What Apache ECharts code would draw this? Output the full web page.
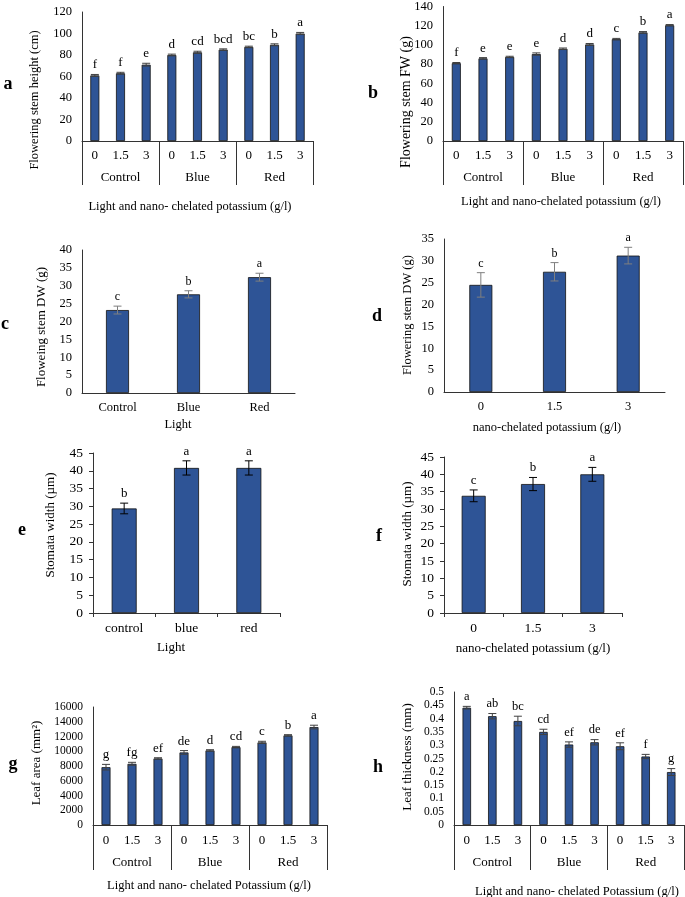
<!DOCTYPE html>
<html><head><meta charset="utf-8">
<script src="https://cdn.jsdelivr.net/npm/echarts@6/dist/echarts.min.js"></script>
<style>html,body{margin:0;padding:0;background:#fff}#c{width:685px;height:897px}</style>
</head><body><div id="c"></div>
<script>
// ---- categories / tick labels ----
const lightGroups = ['Control', 'Blue', 'Red'];
const doseLabels9 = ['0', '1.5', '3', '0', '1.5', '3', '0', '1.5', '3'];
const lightCats = ['Control', 'Blue', 'Red'];
const lightCatsLower = ['control', 'blue', 'red'];
const doseCats = ['0', '1.5', '3'];

// ---- (a) flowering stem height ----
const heightVals = [61, 63, 71, 80, 82.5, 85, 87.5, 89.5, 100];
const heightErr = [0.9, 0.9, 1.3, 0.8, 1, 0.7, 0.7, 0.9, 1];
const heightLetters = ['f', 'f', 'e', 'd', 'cd', 'bcd', 'bc', 'b', 'a'];
// ---- (b) flowering stem FW ----
const fwVals = [81, 86, 87.5, 90.5, 96, 100.5, 106, 113, 120.5];
const fwErr = [0.7, 0.8, 0.7, 1.2, 0.8, 1, 0.8, 0.9, 0.7];
const fwLetters = ['f', 'e', 'e', 'e', 'd', 'd', 'c', 'b', 'a'];
// ---- (c) stem DW by light ----
const dwLightVals = [23.2, 27.6, 32.4];
const dwLightErr = [1.1, 1, 1.1];
const dwLightLetters = ['c', 'b', 'a'];
// ---- (d) stem DW by dose ----
const dwDoseVals = [24.5, 27.5, 31.2];
const dwDoseErr = [2.8, 2.1, 1.9];
const dwDoseLetters = ['c', 'b', 'a'];
// ---- (e) stomata width by light ----
const stomaLightVals = [29.4, 40.8, 40.8];
const stomaLightErr = [1.5, 2, 2];
const stomaLightLetters = ['b', 'a', 'a'];
// ---- (f) stomata width by dose ----
const stomaDoseVals = [33.8, 37.2, 40];
const stomaDoseErr = [1.7, 1.9, 2];
const stomaDoseLetters = ['c', 'b', 'a'];
// ---- (g) leaf area ----
const areaVals = [7840, 8300, 9020, 9840, 10110, 10560, 11200, 12150, 13280];
const areaErr = [380, 200, 100, 250, 100, 100, 150, 100, 250];
const areaLetters = ['g', 'fg', 'ef', 'de', 'd', 'cd', 'c', 'b', 'a'];
// ---- (h) leaf thickness ----
const thickVals = [0.441, 0.409, 0.391, 0.35, 0.3025, 0.311, 0.296, 0.2575, 0.199];
const thickErr = [0.005, 0.01, 0.018, 0.01, 0.01, 0.01, 0.013, 0.008, 0.013];
const thickLetters = ['a', 'ab', 'bc', 'cd', 'ef', 'de', 'ef', 'f', 'g'];

const FONT = 'Liberation Serif';
const BAR = '#2E5496';
const AX = '#333';

const grids = [], xAxis = [], yAxis = [], series = [], graphic = [];

function panel(cfg) {
  const gi = grids.length;
  const rect = { left: cfg.left, top: cfg.top, width: cfg.width, height: cfg.height };
  grids.push(Object.assign({}, rect));
  xAxis.push({
    gridIndex: gi, type: 'category', data: cfg.cats,
    axisLine: { show: true, lineStyle: { color: AX, width: 1 } },
    axisTick: { show: !!cfg.xTicks, length: 4, lineStyle: { color: AX } },
    axisLabel: { margin: cfg.labelMargin, fontFamily: FONT, fontSize: cfg.xFont, color: '#000', interval: 0 },
    splitLine: { show: false }
  });
  yAxis.push({
    gridIndex: gi, type: 'value', min: 0, max: cfg.max, interval: cfg.interval,
    axisLine: { show: true, lineStyle: { color: AX, width: 1 } },
    axisTick: { show: !!cfg.yTicks, length: 4, lineStyle: { color: AX } },
    axisLabel: { margin: 10, fontFamily: FONT, fontSize: cfg.yFont, color: '#000',
      formatter: v => String(Math.round(v * 1000) / 1000) },
    splitLine: { show: false }
  });
  series.push({
    type: 'bar', xAxisIndex: gi, yAxisIndex: gi, data: cfg.vals, barWidth: cfg.barW, silent: true,
    itemStyle: { color: BAR, borderColor: '#111', borderWidth: 0.8 }
  });
  const letters = cfg.letters, capHalf = cfg.cap / 2, ec = cfg.errColor, lf = cfg.letterFont;
  series.push({
    type: 'custom', xAxisIndex: gi, yAxisIndex: gi, z: 5, silent: true,
    data: cfg.vals.map((v, i) => [i, v - cfg.err[i], v + cfg.err[i]]),
    renderItem: function (params, api) {
      const x = api.value(0);
      const lo = api.coord([x, api.value(1)]);
      const hi = api.coord([x, api.value(2)]);
      const st = { stroke: ec, lineWidth: 1 };
      return { type: 'group', children: [
        { type: 'line', shape: { x1: hi[0], y1: hi[1], x2: lo[0], y2: lo[1] }, style: st },
        { type: 'line', shape: { x1: hi[0] - capHalf, y1: hi[1], x2: hi[0] + capHalf, y2: hi[1] }, style: st },
        { type: 'line', shape: { x1: lo[0] - capHalf, y1: lo[1], x2: lo[0] + capHalf, y2: lo[1] }, style: st },
        { type: 'text', x: hi[0], y: hi[1] - 3,
          style: { text: letters[params.dataIndex], align: 'center', verticalAlign: 'bottom',
            fontFamily: FONT, fontSize: lf, fill: '#000' } }
      ] };
    }
  });
  if (cfg.groups) {
    const g2 = grids.length;
    grids.push(Object.assign({}, rect));
    xAxis.push({
      gridIndex: g2, type: 'category', data: cfg.groups,
      axisLine: { show: false },
      axisTick: { show: true, length: cfg.groupTick, lineStyle: { color: AX } },
      axisLabel: { margin: cfg.groupMargin, fontFamily: FONT, fontSize: cfg.xFont, color: '#000', interval: 0 },
      splitLine: { show: false }
    });
    yAxis.push({ gridIndex: g2, type: 'value', show: false, min: 0, max: 1 });
  }
  // axis titles & panel letter
  graphic.push({ type: 'text', x: cfg.yt[0], y: cfg.yt[1], rotation: Math.PI / 2,
    style: { text: cfg.yTitle, align: 'center', verticalAlign: 'middle', fontFamily: FONT, fontSize: cfg.ytFont, fill: '#000' } });
  graphic.push({ type: 'text', x: cfg.xt[0], y: cfg.xt[1],
    style: { text: cfg.xTitle, align: 'center', verticalAlign: 'middle', fontFamily: FONT, fontSize: cfg.xtFont, fill: '#000' } });
  graphic.push({ type: 'text', x: cfg.pl[0], y: cfg.pl[1],
    style: { text: cfg.letter, align: 'center', verticalAlign: 'middle', fontFamily: FONT, fontSize: 18, fontWeight: 'bold', fill: '#000' } });
}

panel({ left: 82, top: 12, width: 231, height: 129, cats: doseLabels9, groups: lightGroups,
  groupTick: 44, groupMargin: 30, labelMargin: 8, xFont: 13, yFont: 12.5,
  max: 120, interval: 20, vals: heightVals, err: heightErr, letters: heightLetters,
  barW: 9, cap: 8, errColor: '#404040', letterFont: 13,
  yTitle: 'Flowering stem height (cm)', yt: [35, 100], ytFont: 12.5,
  xTitle: 'Light and nano- chelated potassium (g/l)', xt: [190, 207], xtFont: 12.5,
  letter: 'a', pl: [8, 84] });

panel({ left: 443, top: 5, width: 240, height: 136, cats: doseLabels9, groups: lightGroups,
  groupTick: 44, groupMargin: 30, labelMargin: 8, xFont: 13, yFont: 12.5,
  max: 140, interval: 20, vals: fwVals, err: fwErr, letters: fwLetters,
  barW: 9, cap: 8, errColor: '#404040', letterFont: 13,
  yTitle: 'Flowering stem FW (g)', yt: [406, 102], ytFont: 14,
  xTitle: 'Light and nano-chelated potassium (g/l)', xt: [561, 202], xtFont: 12.5,
  letter: 'b', pl: [373, 93] });

panel({ left: 82, top: 250, width: 213, height: 143, cats: lightCats,
  labelMargin: 8, xFont: 12.5, yFont: 12.5,
  max: 40, interval: 5, vals: dwLightVals, err: dwLightErr, letters: dwLightLetters,
  barW: 23, cap: 8, errColor: '#7f7f7f', letterFont: 12,
  yTitle: 'Floweing stem DW (g)', yt: [42, 327], ytFont: 13,
  xTitle: 'Light', xt: [178, 425], xtFont: 12.5,
  letter: 'c', pl: [5, 324] });

panel({ left: 444, top: 239, width: 221, height: 153, cats: doseCats,
  labelMargin: 8, xFont: 12.5, yFont: 12.5,
  max: 35, interval: 5, vals: dwDoseVals, err: dwDoseErr, letters: dwDoseLetters,
  barW: 23, cap: 8, errColor: '#7f7f7f', letterFont: 12,
  yTitle: 'Flowering stem DW (g)', yt: [408, 315], ytFont: 12.5,
  xTitle: 'nano-chelated potassium (g/l)', xt: [547, 428], xtFont: 12.5,
  letter: 'd', pl: [377, 316] });

panel({ left: 93, top: 453, width: 187, height: 160, cats: lightCatsLower, xTicks: true, yTicks: true,
  labelMargin: 8, xFont: 13.5, yFont: 13.5,
  max: 45, interval: 5, vals: stomaLightVals, err: stomaLightErr, letters: stomaLightLetters,
  barW: 25, cap: 8, errColor: '#000', letterFont: 13,
  yTitle: 'Stomata width (µm)', yt: [51, 525], ytFont: 13,
  xTitle: 'Light', xt: [171, 648], xtFont: 13,
  letter: 'e', pl: [22, 530] });

panel({ left: 444, top: 457, width: 178, height: 156, cats: doseCats, xTicks: true, yTicks: true,
  labelMargin: 8, xFont: 13.5, yFont: 13.5,
  max: 45, interval: 5, vals: stomaDoseVals, err: stomaDoseErr, letters: stomaDoseLetters,
  barW: 24, cap: 8, errColor: '#000', letterFont: 13,
  yTitle: 'Stomata width (µm)', yt: [408, 534], ytFont: 13,
  xTitle: 'nano-chelated potassium (g/l)', xt: [533, 649], xtFont: 13,
  letter: 'f', pl: [379, 536] });

panel({ left: 93, top: 707, width: 234, height: 118, cats: doseLabels9, groups: lightGroups,
  groupTick: 45, groupMargin: 31, labelMargin: 9, xFont: 13, yFont: 11.5,
  max: 16000, interval: 2000, vals: areaVals, err: areaErr, letters: areaLetters,
  barW: 9, cap: 8, errColor: '#404040', letterFont: 13,
  yTitle: 'Leaf area (mm²)', yt: [37, 763], ytFont: 13,
  xTitle: 'Light and nano- chelated Potassium (g/l)', xt: [209, 886], xtFont: 12.5,
  letter: 'g', pl: [13, 764] });

panel({ left: 454, top: 692, width: 230, height: 133, cats: doseLabels9, groups: lightGroups,
  groupTick: 45, groupMargin: 31, labelMargin: 9, xFont: 13, yFont: 11.5,
  max: 0.5, interval: 0.05, vals: thickVals, err: thickErr, letters: thickLetters,
  barW: 8.5, cap: 8, errColor: '#404040', letterFont: 12.5,
  yTitle: 'Leaf thickness (mm)', yt: [408, 757], ytFont: 13,
  xTitle: 'Light and nano- chelated Potassium (g/l)', xt: [577, 892], xtFont: 12.5,
  letter: 'h', pl: [378, 767] });

const chart = echarts.init(document.getElementById('c'), null, { renderer: 'canvas' });
chart.setOption({
  animation: false,
  backgroundColor: '#fff',
  grid: grids, xAxis: xAxis, yAxis: yAxis, series: series, graphic: graphic
});
</script></body></html>
